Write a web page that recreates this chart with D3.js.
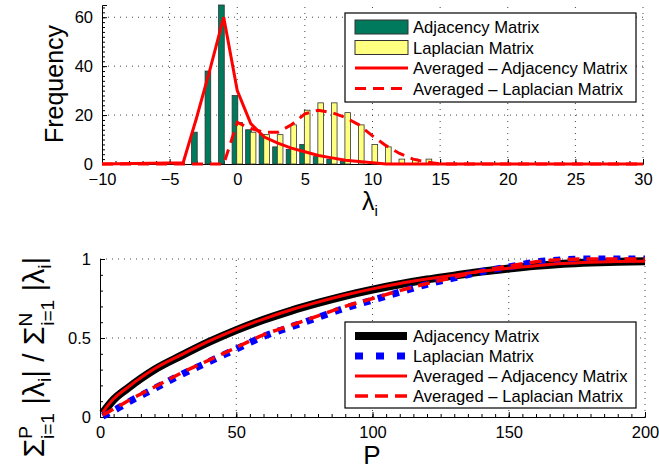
<!DOCTYPE html>
<html>
<head>
<meta charset="utf-8">
<script src="https://cdn.jsdelivr.net/npm/d3@7"></script>
<style>
  body { margin: 0; background: #fff; }
  svg { font-family: "Liberation Sans", Arial, Helvetica, sans-serif; }
</style>
</head>
<body>
<svg id="chart" width="659" height="472"></svg>
<script>
// ---- top panel: eigenvalue histograms ----
var adjBins   = [-3, -2, -1, 0, 1, 2, 3, 4, 5, 6, 7, 8];
var adjCounts = [13, 38, 65, 28, 14, 12, 7, 6, 8, 3, 2, 1];
var lapBins   = [0, 1, 2, 3, 4, 5, 6, 7, 8, 9, 10, 11, 12, 13, 14];
var lapCounts = [17, 13, 12, 12, 16, 22, 25, 25, 21, 16, 8, 7, 2, 2, 2];

var avgAdjX = [-10, -4, -3, -2, -1, 0, 1, 2, 3, 4, 5, 6, 7, 8, 9, 10, 11, 30];
var avgAdjY = [0, 0.5, 19, 39, 60, 30, 16.5, 11, 8.5, 6.5, 5, 3.5, 2.5, 1.5, 1, 0.5, 0, 0];
var avgLapX = [-10, -1, 0, 1, 2, 3, 4, 5, 6, 7, 8, 9, 10, 11, 12, 13, 14, 15, 30];
var avgLapY = [0, 0, 17, 14.5, 13, 13, 16, 20.5, 22, 21, 19, 16, 11.5, 7.5, 4.3, 2, 0.8, 0, 0];

var topXTicks = [-10, -5, 0, 5, 10, 15, 20, 25, 30];
var topYTicks = [0, 20, 40, 60];

// ---- bottom panel: cumulative energy ----
var pValues  = [1, 5, 10, 20, 30, 40, 50, 60, 70, 80, 90, 100, 110, 120, 130, 140, 150, 160, 170, 180, 190, 200];
var adjCum   = [0.025, 0.11, 0.18, 0.3, 0.39, 0.475, 0.55, 0.615, 0.672, 0.722, 0.767, 0.806, 0.84, 0.87, 0.895, 0.92, 0.94, 0.957, 0.97, 0.978, 0.983, 0.985];
var lapCum   = [0.005, 0.04, 0.09, 0.18, 0.27, 0.35, 0.43, 0.51, 0.57, 0.63, 0.69, 0.74, 0.79, 0.84, 0.88, 0.92, 0.95, 0.98, 0.995, 1.0, 1.0, 1.0];
var avgAdjCum = [0.03, 0.115, 0.185, 0.305, 0.395, 0.48, 0.555, 0.62, 0.677, 0.727, 0.772, 0.811, 0.845, 0.873, 0.898, 0.922, 0.942, 0.958, 0.971, 0.979, 0.984, 0.986];
var avgLapCum = [0.012, 0.05, 0.1, 0.19, 0.28, 0.36, 0.44, 0.52, 0.58, 0.64, 0.7, 0.75, 0.8, 0.845, 0.885, 0.925, 0.955, 0.982, 0.996, 1.0, 1.0, 1.0];

var botXTicks = [0, 50, 100, 150, 200];
var botYTicks = [0, 0.5, 1];

var legendTop = ["Adjacency Matrix", "Laplacian Matrix", "Averaged \u2013 Adjacency Matrix", "Averaged \u2013 Laplacian Matrix"];
var legendBot = ["Adjacency Matrix", "Laplacian Matrix", "Averaged \u2013 Adjacency Matrix", "Averaged \u2013 Laplacian Matrix"];

var green = "#007a5c", yellow = "#ffff80", red = "#ff0000", blue = "#0000ff";
var tickFont = 16.5, legFont = 16.6;

var svg = d3.select("#chart");

// dotted grid + inward ticks, MATLAB style (box off)
function drawAxes(g, x, y, xt, yt, xMinor, yMinor, yFmt) {
    var x0 = x.range()[0], x1 = x.range()[1], y0 = y.range()[0], y1 = y.range()[1];
    var grid = g.append("g").attr("stroke", "#444").attr("stroke-width", 1)
        .attr("stroke-dasharray", "1,5");
    xt.forEach(function (t) {
        if (x(t) > x0 + 1) grid.append("line").attr("x1", x(t)).attr("x2", x(t)).attr("y1", y0).attr("y2", y1);
    });
    yt.forEach(function (t) {
        if (y(t) < y0 - 1) grid.append("line").attr("x1", x0).attr("x2", x1).attr("y1", y(t)).attr("y2", y(t));
    });

    var xa = g.append("g").attr("transform", "translate(0," + y0 + ")")
        .call(d3.axisBottom(x).tickValues(xMinor).tickSize(-3).tickFormat(""));
    xa.select(".domain").remove();
    g.append("g").attr("transform", "translate(0," + y0 + ")")
        .call(d3.axisBottom(x).tickValues(xt).tickSize(-5).tickPadding(9).tickFormat(function (d) {
            return d < 0 ? "\u2212" + Math.abs(d) : d;
        }))
        .call(function (a) { a.selectAll("text").attr("font-size", tickFont).attr("fill", "#000"); });

    g.append("g").attr("transform", "translate(" + x0 + ",0)")
        .call(d3.axisLeft(y).tickValues(yMinor).tickSize(-3).tickFormat(""))
        .select(".domain").remove();
    g.append("g").attr("transform", "translate(" + x0 + ",0)")
        .call(d3.axisLeft(y).tickValues(yt).tickSize(-5).tickPadding(9).tickFormat(yFmt))
        .call(function (a) { a.selectAll("text").attr("font-size", tickFont).attr("fill", "#000"); });

    g.selectAll(".domain").attr("stroke", "#000").attr("stroke-width", 1);
    g.selectAll(".tick line").attr("stroke", "#000");
}

// ================= TOP PANEL =================
var xTop = d3.scaleLinear().domain([-10, 30]).range([102, 643]);
var yTop = d3.scaleLinear().domain([0, 65]).range([164, 5]);
var gTop = svg.append("g");

drawAxes(gTop, xTop, yTop, topXTicks, topYTicks,
    d3.range(-10, 31, 1), d3.range(0, 65, 2), function (d) { return d; });

var barW = 0.42;
gTop.append("g").selectAll("rect.adj").data(adjBins).enter().append("rect")
    .attr("x", function (d) { return xTop(d - 0.17 - barW / 2); })
    .attr("width", function (d) { return xTop(barW) - xTop(0); })
    .attr("y", function (d, i) { return yTop(adjCounts[i]); })
    .attr("height", function (d, i) { return yTop(0) - yTop(adjCounts[i]); })
    .attr("fill", green).attr("stroke", "#333").attr("stroke-width", 0.8);

gTop.append("g").selectAll("rect.lap").data(lapBins).enter().append("rect")
    .attr("x", function (d) { return xTop(d + 0.17 - barW / 2); })
    .attr("width", function (d) { return xTop(barW) - xTop(0); })
    .attr("y", function (d, i) { return yTop(lapCounts[i]); })
    .attr("height", function (d, i) { return yTop(0) - yTop(lapCounts[i]); })
    .attr("fill", yellow).attr("stroke", "#333").attr("stroke-width", 0.8);

var lineTop = d3.line()
    .x(function (d) { return xTop(d[0]); })
    .y(function (d) { return yTop(d[1]); });

gTop.append("path")
    .datum(d3.zip(avgAdjX, avgAdjY))
    .attr("d", lineTop).attr("fill", "none")
    .attr("stroke", red).attr("stroke-width", 3);

gTop.append("path")
    .datum(d3.zip(avgLapX, avgLapY))
    .attr("d", lineTop).attr("fill", "none")
    .attr("stroke", red).attr("stroke-width", 3)
    .style("stroke-dasharray", ("11, 7"));

// axis labels
svg.append("text")
    .attr("transform", "translate(63,84) rotate(-90)")
    .attr("text-anchor", "middle").attr("font-size", 25)
    .text("Frequency");

var lamLbl = svg.append("text").attr("x", 362).attr("y", 210).attr("font-size", 25);
lamLbl.append("tspan").text("\u03bb");
lamLbl.append("tspan").attr("dy", 6).attr("font-size", 15).text("i");

// top legend
var legT = svg.append("g").attr("transform", "translate(345,13)");
legT.append("rect").attr("width", 291).attr("height", 89)
    .attr("fill", "#fff").attr("stroke", "#000").attr("stroke-width", 1.2);
legendTop.forEach(function (name, i) {
    var cy = 14 + i * 20.5;
    if (i === 0 || i === 1) {
        legT.append("rect").attr("x", 10).attr("y", cy - 7).attr("width", 53).attr("height", 14)
            .attr("fill", i === 0 ? green : yellow).attr("stroke", "#333");
    } else {
        legT.append("line").attr("x1", 10).attr("x2", 63).attr("y1", cy).attr("y2", cy)
            .attr("stroke", red).attr("stroke-width", 3)
            .style("stroke-dasharray", i === 3 ? "11, 7" : null);
    }
    legT.append("text").attr("x", 68).attr("y", cy + 6).attr("font-size", legFont).text(name);
});

// ================= BOTTOM PANEL =================
var xBot = d3.scaleLinear().domain([0, 200]).range([100, 645]);
var yBot = d3.scaleLinear().domain([0, 1]).range([417, 259]);
var gBot = svg.append("g");

drawAxes(gBot, xBot, yBot, botXTicks, botYTicks,
    d3.range(0, 201, 5), d3.range(0, 1.0001, 0.1), function (d) { return d; });

var lineBot = d3.line()
    .curve(d3.curveMonotoneX)
    .x(function (d) { return xBot(d[0]); })
    .y(function (d) { return yBot(d[1]); });

gBot.append("path").datum(d3.zip(pValues, adjCum))
    .attr("d", lineBot).attr("fill", "none")
    .attr("stroke", "#000").attr("stroke-width", 8);

gBot.append("path").datum(d3.zip(pValues, lapCum))
    .attr("d", lineBot).attr("fill", "none")
    .attr("stroke", blue).attr("stroke-width", 7)
    .style("stroke-dasharray", "7, 8");

gBot.append("path").datum(d3.zip(pValues, avgAdjCum))
    .attr("d", lineBot).attr("fill", "none")
    .attr("stroke", red).attr("stroke-width", 3);

gBot.append("path").datum(d3.zip(pValues, avgLapCum))
    .attr("d", lineBot).attr("fill", "none")
    .attr("stroke", red).attr("stroke-width", 3.5)
    .style("stroke-dasharray", "12, 7");

// bottom legend
var legB = svg.append("g").attr("transform", "translate(345,322)");
legB.append("rect").attr("width", 291).attr("height", 86)
    .attr("fill", "#fff").attr("stroke", "#000").attr("stroke-width", 1.2);
var legStyles = [
    {c: "#000", w: 8, dash: null},
    {c: blue, w: 7, dash: "8, 13"},
    {c: red, w: 3, dash: null},
    {c: red, w: 3.5, dash: "13, 7"}
];
legendBot.forEach(function (name, i) {
    var cy = 14 + i * 20;
    legB.append("line").attr("x1", 10).attr("x2", 62).attr("y1", cy).attr("y2", cy)
        .attr("stroke", legStyles[i].c).attr("stroke-width", legStyles[i].w)
        .style("stroke-dasharray", legStyles[i].dash);
    legB.append("text").attr("x", 68).attr("y", cy + 6).attr("font-size", legFont).text(name);
});

// bottom axis labels
svg.append("text").attr("x", 372).attr("y", 464)
    .attr("text-anchor", "middle").attr("font-size", 26).text("P");

var yl = svg.append("text")
    .attr("transform", "translate(44,357) rotate(-90)")
    .attr("text-anchor", "middle").attr("font-size", 30);
function sumTerm(sup) {
    yl.append("tspan").text("\u03a3");
    yl.append("tspan").attr("dy", -12).attr("font-size", 19).text(sup);
    yl.append("tspan").attr("dx", -13).attr("dy", 22).attr("font-size", 19).text("i=1");
    yl.append("tspan").attr("dy", -10).text(" |\u03bb");
    yl.append("tspan").attr("dy", 7).attr("font-size", 19).text("i");
    yl.append("tspan").attr("dy", -7).text("|");
}
sumTerm("P");
yl.append("tspan").text(" / ");
sumTerm("N");
</script>
</body>
</html>
